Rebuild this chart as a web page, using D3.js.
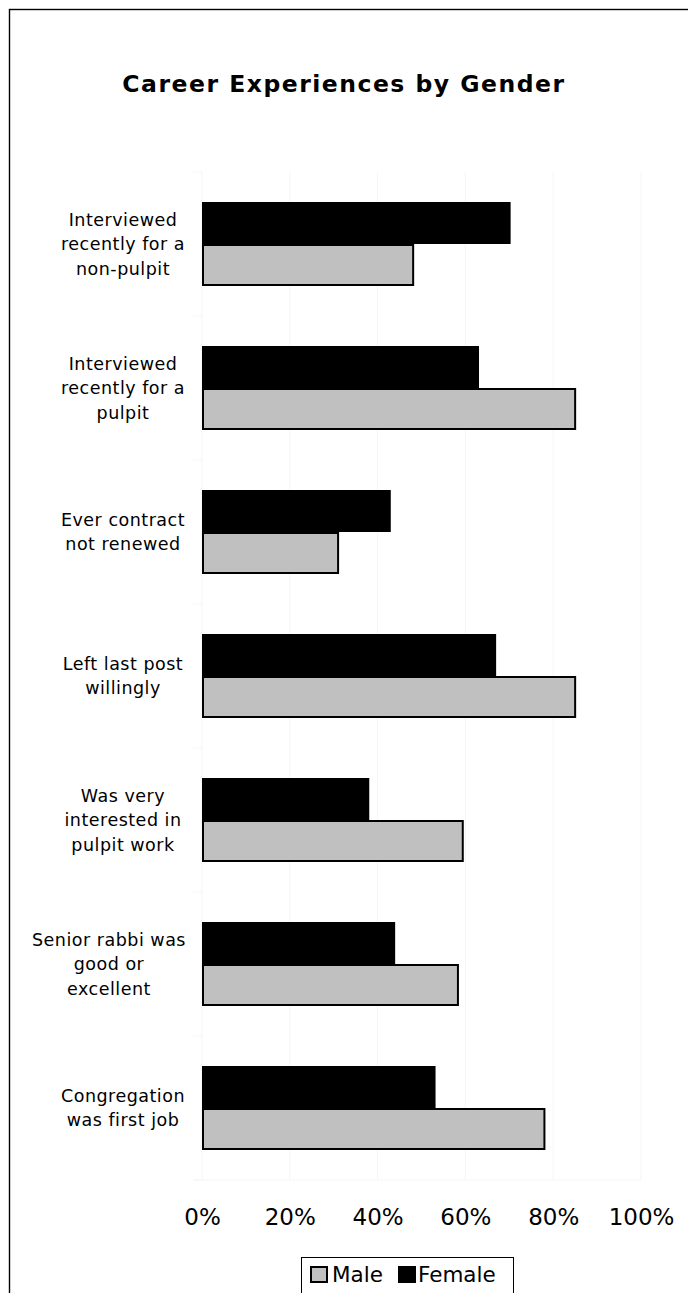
<!DOCTYPE html>
<html>
<head>
<meta charset="utf-8">
<script src="https://cdn.jsdelivr.net/npm/d3@7"></script>
<style>
  html, body { margin: 0; padding: 0; background: #fff; }
  svg { display: block; }
</style>
</head>
<body>
<svg id="chart" width="688" height="1293"></svg>
<script>
const categories = [
  ["Interviewed", "recently for a", "non-pulpit"],
  ["Interviewed", "recently for a", "pulpit"],
  ["Ever contract", "not renewed"],
  ["Left last post", "willingly"],
  ["Was very", "interested in", "pulpit work"],
  ["Senior rabbi was", "good or", "excellent"],
  ["Congregation", "was first job"]
];
const femaleValues = [0.703, 0.631, 0.430, 0.670, 0.381, 0.440, 0.532];
const maleValues   = [0.481, 0.850, 0.310, 0.850, 0.594, 0.583, 0.780];
const tickValues = [0, 0.2, 0.4, 0.6, 0.8, 1.0];
const tickLabels = ["0%", "20%", "40%", "60%", "80%", "100%"];
const seriesNames = ["Male", "Female"];

const svg = d3.select("#chart");
const W = 688, H = 1293;
const font = "'DejaVu Sans', Verdana, sans-serif";

// outer frame
svg.append("rect").attr("x", 9.5).attr("y", 9.5).attr("width", W + 10).attr("height", H + 10)
  .attr("fill", "#fff").attr("stroke", "#000").attr("stroke-width", 1.4);

// title
svg.append("text").attr("x", 344).attr("y", 92).attr("text-anchor", "middle")
  .attr("font-family", font).attr("font-weight", "bold").attr("font-size", 23.5)
  .attr("letter-spacing", 1.5).attr("fill", "#000").text("Career Experiences by Gender");

const x = d3.scaleLinear().domain([0, 1]).range([202, 641]);
const idx = categories.map((d, i) => i);
const y = d3.scaleBand().domain(idx).range([172, 1180]).paddingInner(0).paddingOuter(0);
const barH = 42;

// faint gridlines
svg.append("g").selectAll("line").data(tickValues).join("line")
  .attr("x1", d => x(d)).attr("x2", d => x(d)).attr("y1", 172).attr("y2", 1180)
  .attr("stroke", "#f5f5f5").attr("stroke-width", 1);
svg.append("g").selectAll("line").data(d3.range(8)).join("line")
  .attr("x1", 193).attr("x2", 202)
  .attr("y1", d => 172 + d * y.bandwidth()).attr("y2", d => 172 + d * y.bandwidth())
  .attr("stroke", "#f5f5f5");
svg.append("line").attr("x1", 193).attr("x2", 641).attr("y1", 1180).attr("y2", 1180).attr("stroke", "#f5f5f5");

// bars
const center = i => y(i) + y.bandwidth() / 2;
svg.append("g").selectAll("rect").data(maleValues).join("rect")
  .attr("x", x(0) + 1).attr("y", (d, i) => center(i) + 1)
  .attr("width", d => x(d) - x(0) - 1).attr("height", barH - 2)
  .attr("fill", "#c0c0c0").attr("stroke", "#000").attr("stroke-width", 2);
svg.append("g").selectAll("rect").data(femaleValues).join("rect")
  .attr("x", x(0)).attr("y", (d, i) => center(i) - barH)
  .attr("width", d => x(d) - x(0)).attr("height", barH)
  .attr("fill", "#000");

// category labels (centered block, kept clear of the axis)
const lineH = 24.5;
const lab = svg.append("g").attr("font-family", font).attr("font-size", 17.5)
  .attr("letter-spacing", 0.5).attr("fill", "#000").attr("text-anchor", "middle");
categories.forEach((lines, i) => {
  const c = center(i);
  const t = lab.append("text");
  const spans = lines.map((ln, k) => t.append("tspan")
    .attr("y", c + (k - (lines.length - 1) / 2) * lineH + 6).text(ln));
  const maxW = d3.max(spans, s => s.node().getComputedTextLength());
  const cx = Math.min(123, 186 - maxW / 2);
  spans.forEach(s => s.attr("x", cx));
});

// x axis labels
const xAxis = d3.axisBottom(x).tickValues(tickValues).tickFormat((d, i) => tickLabels[i]).tickSize(0).tickPadding(0);
const ax = svg.append("g").attr("transform", "translate(0,1225)").call(xAxis);
ax.select(".domain").remove();
ax.selectAll("text").attr("font-family", font).attr("font-size", 23).attr("fill", "#000").attr("dy", "0");

// legend
const lg = svg.append("g");
lg.append("rect").attr("x", 301.5).attr("y", 1257.5).attr("width", 212).attr("height", 40)
  .attr("fill", "#fff").attr("stroke", "#000").attr("stroke-width", 1);
const legendItems = [
  { name: seriesNames[0], fill: "#c0c0c0", x: 311, tx: 332 },
  { name: seriesNames[1], fill: "#000", x: 399, tx: 418 }
];
legendItems.forEach(it => {
  lg.append("rect").attr("x", it.x).attr("y", 1267).attr("width", 16).attr("height", 15)
    .attr("fill", it.fill).attr("stroke", "#000").attr("stroke-width", 2);
  lg.append("text").attr("x", it.tx).attr("y", 1282).attr("font-family", font)
    .attr("font-size", 21.5).attr("fill", "#000").text(it.name);
});
</script>
</body>
</html>
